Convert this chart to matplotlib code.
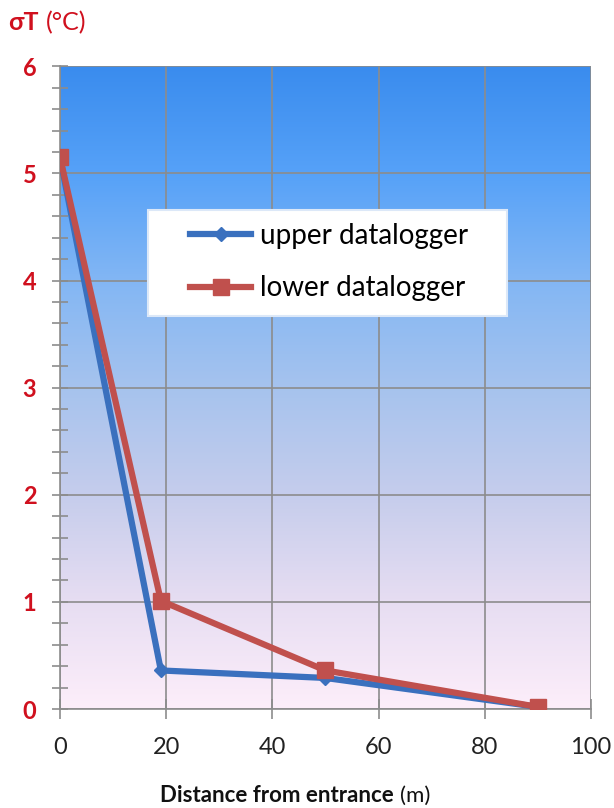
import numpy as np
import matplotlib.pyplot as plt
from matplotlib.colors import LinearSegmentedColormap
from matplotlib.ticker import MultipleLocator
from matplotlib.patches import Rectangle

plt.rcParams['font.family'] = ['Lato', 'DejaVu Sans']

# data
distance = [0, 19, 50, 90]
upper = [5.15, 0.36, 0.29, 0.02]
lower = [5.15, 1.01, 0.36, 0.02]

red = '#D0101E'
blue_line = '#3A70BE'
red_line = '#C0504D'
grey = '#8C8C8C'

fig = plt.figure(figsize=(6.14, 8.08), dpi=100)
ax = fig.add_axes([0.0977, 0.1225, 0.8648, 0.7955])

# gradient background, blue at top to pink at bottom
grad = LinearSegmentedColormap.from_list(
    'bg', [(0.0, '#FDEEFA'), (0.17, '#E6DDF2'), (0.33, '#C6CDEC'),
           (0.5, '#A6C3EE'), (0.67, '#82B6F4'), (0.83, '#57A2F8'),
           (1.0, '#3A8CEE')])
ax.imshow(np.linspace(0, 1, 256).reshape(-1, 1), cmap=grad, origin='lower',
          aspect='auto', extent=[0, 100, 0, 6], zorder=0)

ax.set_xlim(0, 100)
ax.set_ylim(0, 6)
ax.xaxis.set_major_locator(MultipleLocator(20))
ax.yaxis.set_major_locator(MultipleLocator(1))
ax.yaxis.set_minor_locator(MultipleLocator(0.2))
ax.grid(True, which='major', color=grey, linewidth=1.2, zorder=1)

ax.plot(distance, upper, color=blue_line, lw=4.5, marker='D', ms=7,
        label='upper datalogger', zorder=3)
ax.plot(distance, lower, color=red_line, lw=4.5, marker='s', ms=12,
        label='lower datalogger', zorder=4)

for s in ['top', 'right']:
    ax.spines[s].set_visible(False)
for s in ['left', 'bottom']:
    ax.spines[s].set_color(grey)
    ax.spines[s].set_linewidth(1.2)

ax.tick_params(axis='y', which='both', direction='inout', length=12,
               width=1.2, color=grey)
ax.tick_params(axis='y', which='major', labelsize=17, labelcolor=red, pad=11)
ax.tick_params(axis='x', which='major', direction='inout', length=14,
               width=1.2, color=grey, labelsize=17, labelcolor='#222222',
               pad=13)
for t in ax.get_yticklabels():
    t.set_fontweight('bold')

# legend: white box with frameless legend on top
ax.add_patch(Rectangle((0.1657, 0.612), 0.676, 0.164, transform=ax.transAxes,
                       facecolor='white', edgecolor='#DCE8F8', lw=1.5,
                       zorder=5))
leg = ax.legend(loc='upper left', bbox_to_anchor=(0.245, 0.756),
                fontsize=20, frameon=False, borderpad=0, borderaxespad=0,
                labelspacing=0.95, handlelength=2.2, handletextpad=0.3)
leg.set_zorder(6)


def two_part(x, y, bold_txt, plain_txt, size):
    t = fig.text(x, y, bold_txt, color=col, fontsize=size,
                 fontweight='bold', va='baseline')
    fig.canvas.draw()
    bb = t.get_window_extent()
    x2 = (bb.x1 + 0.28 * size * fig.dpi / 72) / fig.bbox.width
    fig.text(x2, y, plain_txt, color=col, fontsize=size, va='baseline')


col = red
two_part(0.013, 0.963, 'σT', '(°C)', 18)
col = '#111111'
two_part(0.26, 0.008, 'Distance from entrance', '(m)', 16)

plt.savefig('out.png', dpi=100)
plt.close('all')
